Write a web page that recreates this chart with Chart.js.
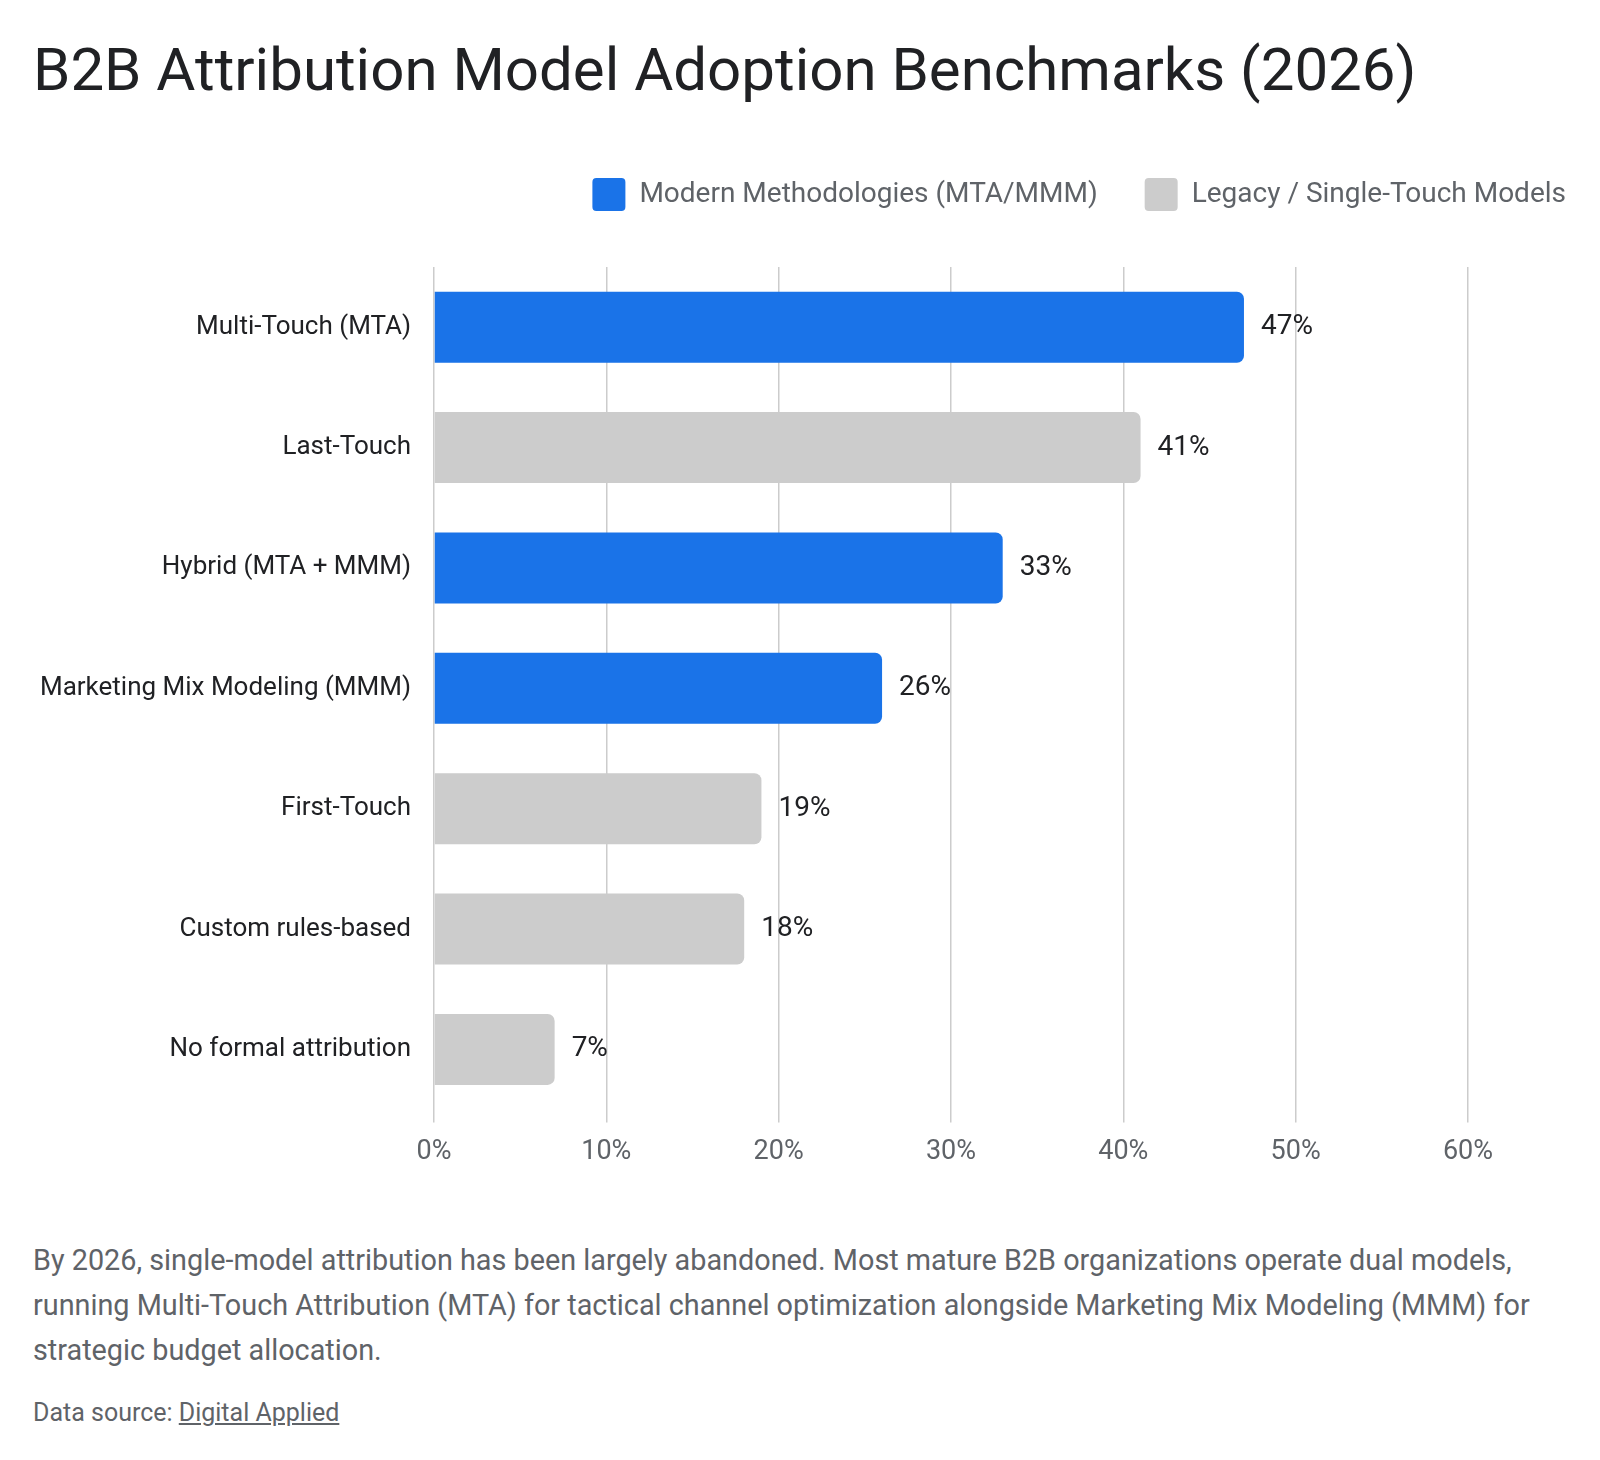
<!DOCTYPE html>
<html>
<head>
<meta charset="utf-8">
<script src="https://cdn.jsdelivr.net/npm/chart.js@4.4.1/dist/chart.umd.min.js"></script>
<style>
    html, body { margin: 0; padding: 0; background: #fff; overflow: hidden; }
    body { width: 1600px; height: 1460px; position: relative; font-family: Roboto, sans-serif; }
    h1 { position: absolute; left: 33px; top: 34px; margin: 0; font-size: 60px; line-height: 72px; font-weight: 400; color: #202124; white-space: nowrap; }
    .chart-box { position: absolute; left: 0; top: 120px; width: 1620px; height: 1066px; }
    .note { position: absolute; left: 33px; top: 1238px; width: 1560px; margin: 0; font-size: 28.8px; line-height: 45px; color: #5f6368; white-space: nowrap; }
    .source { position: absolute; left: 33px; top: 1398px; margin: 0; font-size: 25px; line-height: 30px; color: #5f6368; }
    .source a { color: #5f6368; text-decoration: underline; }
</style>
</head>
<body>
<h1>B2B Attribution Model Adoption Benchmarks (2026)</h1>
<div class="chart-box"><canvas id="barChart" width="1620" height="1066"></canvas></div>
<p class="note">By 2026, single-model attribution has been largely abandoned. Most mature B2B organizations operate dual models,<br>running Multi-Touch Attribution (MTA) for tactical channel optimization alongside Marketing Mix Modeling (MMM) for<br>strategic budget allocation.</p>
<p class="source">Data source: <a href="#">Digital Applied</a></p>

<script>
const categories = ['Multi-Touch (MTA)', 'Last-Touch', 'Hybrid (MTA + MMM)', 'Marketing Mix Modeling (MMM)', 'First-Touch', 'Custom rules-based', 'No formal attribution'];
const modernValues = [47, null, 33, 26, null, null, null];
const legacyValues = [null, 41, null, null, 19, 18, 7];
const xTicks = [0, 10, 20, 30, 40, 50, 60];

const BLUE = '#1a73e8';
const GRAY = '#cccccc';

// value labels at the end of each bar
const valueLabels = {
    id: 'valueLabels',
    afterDatasetsDraw(chart) {
        const ctx = chart.ctx;
        ctx.save();
        ctx.font = '400 28px Roboto';
        ctx.fillStyle = '#202124';
        ctx.textAlign = 'left';
        ctx.textBaseline = 'middle';
        chart.data.datasets.forEach((ds, i) => {
            chart.getDatasetMeta(i).data.forEach((bar, j) => {
                if (ds.data[j] == null) return;
                ctx.fillText(ds.data[j] + '%', bar.x + 17, bar.y);
            });
        });
        ctx.restore();
    }
};

// extra room under the legend
const legendGap = {
    id: 'legendGap',
    beforeInit(chart) {
        const fit = chart.legend.fit;
        chart.legend.fit = function () {
            fit.bind(chart.legend)();
            this.height += 46;
        };
    }
};

new Chart(document.getElementById('barChart'), {
    type: 'bar',
    data: {
        labels: categories,
        datasets: [{
            label: 'Modern Methodologies (MTA/MMM)',
            data: modernValues,
            backgroundColor: BLUE
        }, {
            label: 'Legacy / Single-Touch Models',
            data: legacyValues,
            backgroundColor: GRAY
        }]
    },
    options: {
        indexAxis: 'y',
        responsive: false,
        animation: false,
        devicePixelRatio: 1,
        grouped: false,
        categoryPercentage: 1,
        barPercentage: 0.59,
        borderRadius: 7,
        borderSkipped: 'start',
        layout: { padding: { top: 11, right: 7, bottom: 5, left: 0 } },
        plugins: {
            legend: {
                position: 'top',
                align: 'end',
                labels: {
                    boxWidth: 33,
                    boxHeight: 33,
                    padding: 47,
                    useBorderRadius: true,
                    borderRadius: 4,
                    color: '#5f6368',
                    font: { family: 'Roboto', size: 28 }
                }
            },
            tooltip: { enabled: false }
        },
        scales: {
            x: {
                min: 0,
                max: 60,
                afterBuildTicks(scale) { scale.ticks = xTicks.map(v => ({ value: v })); },
                ticks: {
                    callback: v => v + '%',
                    color: '#5f6368',
                    padding: 13,
                    font: { family: 'Roboto', size: 27 }
                },
                grid: { color: '#cccccc', lineWidth: 1.5, tickLength: 13, tickColor: '#cccccc' },
                border: { display: false }
            },
            y: {
                afterFit(scale) { scale.width = 434; },
                ticks: {
                    color: '#202124',
                    padding: 23,
                    font: { family: 'Roboto', size: 26 }
                },
                grid: { display: false, drawTicks: false },
                border: { display: false }
            },
            yRight: {
                type: 'category',
                position: 'right',
                afterFit(scale) { scale.width = 145; },
                ticks: { display: false },
                grid: { display: false, drawTicks: false },
                border: { display: false }
            }
        }
    },
    plugins: [valueLabels, legendGap]
});
</script>
</body>
</html>
